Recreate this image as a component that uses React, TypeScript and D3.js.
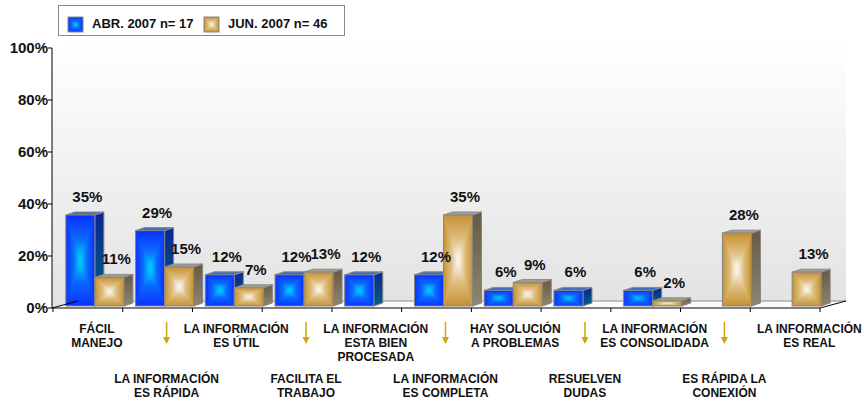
import React from 'react';
import * as d3 from 'd3';

const categories = [
  'FÁCIL\nMANEJO',
  'LA INFORMACIÓN\nES RÁPIDA',
  'LA INFORMACIÓN\nES ÚTIL',
  'FACILITA EL\nTRABAJO',
  'LA INFORMACIÓN\nESTA BIEN\nPROCESADA',
  'LA INFORMACIÓN\nES COMPLETA',
  'HAY SOLUCIÓN\nA PROBLEMAS',
  'RESUELVEN\nDUDAS',
  'LA INFORMACIÓN\nES CONSOLIDADA',
  'ES RÁPIDA LA\nCONEXIÓN',
  'LA INFORMACIÓN\nES REAL',
];
const seriesNames = ['ABR. 2007 n= 17', 'JUN. 2007 n= 46'];
const abr2007 = [35, 29, 12, 12, 12, 12, 6, 6, 6, 0, 0];
const jun2007 = [11, 15, 7, 13, 0, 35, 9, 0, 2, 28, 13];
const yTicks = [0, 20, 40, 60, 80, 100];

const W = 864;
const H = 402;
const X0 = 53;
const X1 = 820;
const YB = 308;
const YT = 48;
const DX = 26;
const DY = -7;
const BDX = 9;
const BDY = -3;
const SX = 7;
const SY = -2;
const BAR_W = 29;
const FONT = '"Liberation Sans", Arial, Helvetica, sans-serif';

const palettes = [
  { edge: '#0a30ff', mid: '#0a6cff', center: '#00dcff', sideTop: '#0b2690', sideBot: '#006282', top: '#3f6fc0', base: '#0a55ff' },
  { edge: '#c4912f', mid: '#e0c085', center: '#ffffff', sideTop: '#675a42', sideBot: '#8e8572', top: '#a59d8d', base: '#dcb878' },
];

let measureCtx: CanvasRenderingContext2D | null = null;
function textWidth(s: string, size: number): number {
  if (!measureCtx && typeof document !== 'undefined') {
    measureCtx = document.createElement('canvas').getContext('2d');
  }
  if (!measureCtx) return s.length * size * 0.62;
  measureCtx.font = `bold ${size}px ${FONT}`;
  return measureCtx.measureText(s).width;
}

function Gradients() {
  const dirs: [string, string, string, string, string][] = [
    ['t', '0', '0', '0', '1'],
    ['b', '0', '1', '0', '0'],
    ['l', '0', '0', '1', '0'],
    ['r', '1', '0', '0', '0'],
  ];
  return (
    <defs>
      <linearGradient id="wall" x1="0" y1="0" x2="0" y2="1">
        <stop offset="0" stopColor="#ffffff" />
        <stop offset="1" stopColor="#e2e2e2" />
      </linearGradient>
      {palettes.map((p, s) => (
        <React.Fragment key={s}>
          {dirs.map(([d, x1, y1, x2, y2]) => (
            <linearGradient key={d} id={`f${s}${d}`} x1={x1} y1={y1} x2={x2} y2={y2}>
              <stop offset="0" stopColor={p.edge} />
              <stop offset="0.55" stopColor={p.mid} />
              <stop offset="1" stopColor={p.center} />
            </linearGradient>
          ))}
          <linearGradient id={`side${s}`} x1="0" y1="0" x2="0" y2="1">
            <stop offset="0" stopColor={p.sideTop} />
            <stop offset="1" stopColor={p.sideBot} />
          </linearGradient>
        </React.Fragment>
      ))}
    </defs>
  );
}

function FrontFace({ s, x0, x1, yt, yb }: { s: number; x0: number; x1: number; yt: number; yb: number }) {
  const cx = (x0 + x1) / 2;
  const cy = (yt + yb) / 2;
  const p = palettes[s];
  return (
    <g>
      <rect x={x0} y={yt} width={x1 - x0} height={yb - yt} fill={p.base} />
      <path d={`M${x0},${yt}L${x1},${yt}L${cx},${cy}Z`} fill={`url(#f${s}t)`} />
      <path d={`M${x0},${yb}L${x1},${yb}L${cx},${cy}Z`} fill={`url(#f${s}b)`} />
      <path d={`M${x0},${yt}L${x0},${yb}L${cx},${cy}Z`} fill={`url(#f${s}l)`} />
      <path d={`M${x1},${yt}L${x1},${yb}L${cx},${cy}Z`} fill={`url(#f${s}r)`} />
      <rect x={x0} y={yt} width={x1 - x0} height={yb - yt} fill="none" stroke="#868686" strokeWidth={1} />
    </g>
  );
}

function Bar({ s, x0, v, y }: { s: number; x0: number; v: number; y: d3.ScaleLinear<number, number> }) {
  const x1 = x0 + BAR_W;
  const yb = y(0) + SY;
  const yt = y(v) + SY;
  const p = palettes[s];
  return (
    <g>
      <path
        d={`M${x1},${yt}L${x1 + BDX},${yt + BDY}L${x1 + BDX},${yb + BDY}L${x1},${yb}Z`}
        fill={`url(#side${s})`}
        stroke="#868686"
        strokeWidth={1}
      />
      <path
        d={`M${x0},${yt}L${x0 + BDX},${yt + BDY}L${x1 + BDX},${yt + BDY}L${x1},${yt}Z`}
        fill={p.top}
        stroke="#8a8a8a"
        strokeWidth={1}
      />
      <FrontFace s={s} x0={x0} x1={x1} yt={yt} yb={yb} />
    </g>
  );
}

export default function App() {
  const x = d3.scaleBand<string>().domain(categories).range([X0, X1]).padding(0);
  const y = d3.scaleLinear().domain([0, 100]).range([YB, YT]);
  const bw = x.bandwidth();
  const series = [abr2007, jun2007];
  const fmt = (v: number) => `${v}%`;

  return (
    <svg
      width={W}
      height={H}
      style={{ position: 'absolute', left: 0, top: 0, background: '#ffffff' }}
      fontFamily={FONT}
      fontWeight="bold"
    >
      <Gradients />
      {/* walls */}
      <path
        d={`M${X0 - 1},${YT}L${X0 - 1 + DX},${YT + DY}L${X1 + DX},${YT + DY}L${X1 + DX},${YB + DY}L${X0 - 1 + DX},${YB + DY}L${X0 - 1},${YB}Z`}
        fill="url(#wall)"
      />
      {/* floor */}
      <path
        d={`M${X0 - 1},${YB}L${X1},${YB}L${X1 + DX},${YB + DY}L${X0 - 1 + DX},${YB + DY}Z`}
        fill="#fbfbfb"
      />
      <line x1={X0 - 1 + DX} x2={X1 + DX} y1={YB + DY} y2={YB + DY} stroke="#8c8c8c" strokeWidth={1} />

      {/* bars */}
      {categories.map((c, i) => {
        const cx = (x(c) as number) + bw / 2 + SX;
        return (
          <g key={i}>
            {series.map((vals, s) =>
              vals[i] > 0 ? <Bar key={s} s={s} x0={s === 0 ? cx - BAR_W : cx} v={vals[i]} y={y} /> : null
            )}
          </g>
        );
      })}

      {/* front axis lines */}
      <line x1={X0 - 1} x2={X1} y1={YB} y2={YB} stroke="#000" strokeWidth={1} />
      <line x1={X0 - 1} x2={X0 - 1 + DX} y1={YB} y2={YB + DY} stroke="#000" strokeWidth={1} />
      <line x1={X1} x2={X1 + DX} y1={YB} y2={YB + DY} stroke="#000" strokeWidth={1} />
      <line x1={X0 - 1} x2={X0 - 1} y1={YT} y2={YB} stroke="#000" strokeWidth={1} />
      {[...categories.map((c) => x(c) as number), X1].map((tx, i) => (
        <line key={i} x1={tx} x2={tx} y1={YB} y2={YB + 4} stroke="#000" strokeWidth={1} />
      ))}
      {yTicks.map((t) => (
        <g key={t}>
          <line x1={X0 - 5} x2={X0 - 1} y1={y(t)} y2={y(t)} stroke="#000" strokeWidth={1} />
          <text x={X0 - 5} y={y(t) + 5} textAnchor="end" fontSize={15} fill="#111">
            {fmt(t)}
          </text>
        </g>
      ))}

      {/* value labels */}
      {categories.map((c, i) => {
        const cx = (x(c) as number) + bw / 2 + SX;
        return series.map((vals, s) => {
          const v = vals[i];
          if (v <= 0) return null;
          const fx = s === 0 ? cx - BAR_W / 2 : cx + BAR_W / 2;
          return (
            <text key={`${i}-${s}`} x={fx + 7} y={y(v) + SY - 13} textAnchor="middle" fontSize={15} fill="#111">
              {fmt(v)}
            </text>
          );
        });
      })}

      {/* category labels */}
      {categories.map((c, i) => {
        const lines = c.split('\n');
        const lower = i % 2 === 1;
        const raw = (x(c) as number) + bw / 2 + 9;
        const maxW = Math.max(...lines.map((l) => textWidth(l, 12)));
        const cx = i === categories.length - 1 ? W - 2 - maxW / 2 : raw;
        const by = lower ? 383 : 333;
        return (
          <g key={i}>
            {lower && (
              <g>
                <line x1={raw} x2={raw} y1={322} y2={338} stroke="#d4a10f" strokeWidth={1.5} />
                <path d={`M${raw - 3.5},${337}L${raw + 3.5},${337}L${raw},${344}Z`} fill="#d4a10f" />
              </g>
            )}
            <text x={cx} y={by} textAnchor="middle" fontSize={12} fill="#111">
              {lines.map((l, k) => (
                <tspan key={k} x={cx} dy={k === 0 ? 0 : 14}>
                  {l}
                </tspan>
              ))}
            </text>
          </g>
        );
      })}

      {/* legend */}
      <rect x={58.5} y={5.5} width={286} height={30} fill="#fff" stroke="#8a8a8a" strokeWidth={1} />
      {seriesNames.map((n, s) => {
        const lx = s === 0 ? 68 : 204;
        return (
          <g key={s}>
            <FrontFace s={s} x0={lx} x1={lx + 15} yt={17} yb={32} />
            <text x={lx + 24} y={28} fontSize={13} fill="#111">
              {n}
            </text>
          </g>
        );
      })}
    </svg>
  );
}
